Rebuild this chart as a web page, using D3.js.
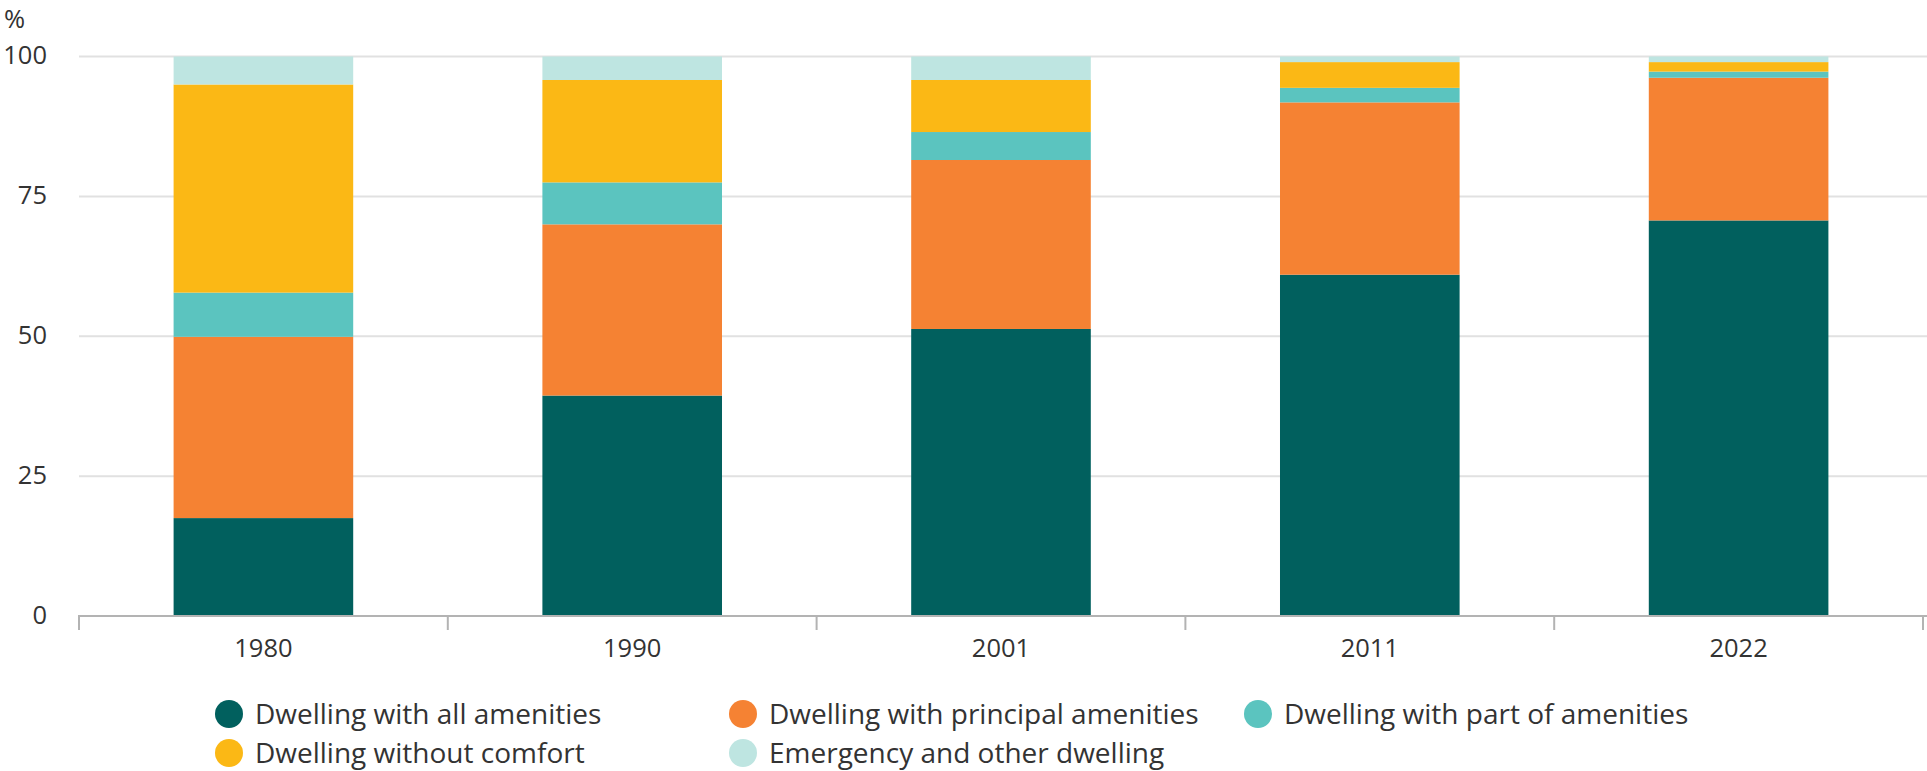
<!DOCTYPE html>
<html>
<head>
<meta charset="utf-8">
<script src="https://cdn.jsdelivr.net/npm/d3@7"></script>
<style>
  html, body { margin: 0; padding: 0; background: #ffffff; }
  svg { display: block; font-family: "Open Sans", "Noto Sans", sans-serif; }
</style>
</head>
<body>
<svg id="chart" width="1927" height="771"></svg>
<script>
// Census years on the x axis
const years = ["1980", "1990", "2001", "2011", "2022"];

// Share of dwellings (%) by amenity level, one array per series
const allAmenities       = [17.5, 39.4, 51.3, 61.0, 70.7];
const principalAmenities = [32.4, 30.6, 30.2, 30.8, 25.5];
const partOfAmenities    = [7.9, 7.5, 5.0, 2.6, 1.1];
const withoutComfort     = [37.2, 18.3, 9.3, 4.6, 1.7];
const emergencyOther     = [5.0, 4.2, 4.2, 1.0, 1.0];

const seriesNames = [
  "Dwelling with all amenities",
  "Dwelling with principal amenities",
  "Dwelling with part of amenities",
  "Dwelling without comfort",
  "Emergency and other dwelling"
];
const seriesValues = [allAmenities, principalAmenities, partOfAmenities, withoutComfort, emergencyOther];
const seriesColors = ["#01605e", "#f58233", "#5bc4bf", "#fbb815", "#bee5e1"];

const yTicks = [0, 25, 50, 75, 100];

// Build row table for d3.stack
const rows = years.map((y, i) => {
  const r = { year: y };
  seriesNames.forEach((n, k) => { r[n] = seriesValues[k][i]; });
  return r;
});

const svg = d3.select("#chart");
const textColor = "#333333";

const x = d3.scaleBand().domain(years).range([79, 1923]).paddingInner(0.513).paddingOuter(0.2565);
const y = d3.scaleLinear().domain([0, 100]).range([616, 56.5]);

// Horizontal gridlines
svg.append("g")
  .selectAll("line")
  .data(yTicks.filter(t => t > 0))
  .join("line")
  .attr("x1", 79).attr("x2", 1927)
  .attr("y1", d => y(d)).attr("y2", d => y(d))
  .attr("stroke", "#e1e1e1").attr("stroke-width", 2);

// Y tick labels
svg.append("g")
  .selectAll("text")
  .data(yTicks)
  .join("text")
  .attr("x", 47).attr("y", d => y(d)).attr("dy", "0.3em")
  .attr("text-anchor", "end")
  .attr("font-size", 25.5).attr("fill", textColor)
  .text(d => d);

// Unit label
svg.append("text")
  .attr("x", 4).attr("y", 28)
  .attr("font-size", 25.5).attr("fill", textColor)
  .text("%");

// Stacked bars
const stack = d3.stack().keys(seriesNames);
const layers = stack(rows);

svg.append("g")
  .selectAll("g")
  .data(layers)
  .join("g")
  .attr("fill", (d, i) => seriesColors[i])
  .selectAll("rect")
  .data(d => d)
  .join("rect")
  .attr("x", d => x(d.data.year))
  .attr("width", x.bandwidth())
  .attr("y", d => y(d[1]))
  .attr("height", d => y(d[0]) - y(d[1]));

// X axis with ticks at band boundaries
const axisG = svg.append("g");
axisG.append("line")
  .attr("x1", 78).attr("x2", 1927)
  .attr("y1", 616).attr("y2", 616)
  .attr("stroke", "#b3b3b3").attr("stroke-width", 2);

const step = x.step();
const boundaries = d3.range(years.length + 1).map(i => x(years[0]) - (step - x.bandwidth()) / 2 + i * step);
axisG.selectAll("line.tick")
  .data(boundaries)
  .join("line")
  .attr("class", "tick")
  .attr("x1", d => d).attr("x2", d => d)
  .attr("y1", 616).attr("y2", 630)
  .attr("stroke", "#b3b3b3").attr("stroke-width", 2);

axisG.selectAll("text")
  .data(years)
  .join("text")
  .attr("x", d => x(d) + x.bandwidth() / 2)
  .attr("y", 657)
  .attr("text-anchor", "middle")
  .attr("font-size", 25.5).attr("fill", textColor)
  .text(d => d);

// Legend: three columns, two rows
const legendCols = [229, 743, 1258];
const legendRows = [714, 753];
const legend = svg.append("g")
  .selectAll("g")
  .data(seriesNames)
  .join("g")
  .attr("transform", (d, i) => `translate(${legendCols[i % 3]},${legendRows[Math.floor(i / 3)]})`);

legend.append("circle")
  .attr("r", 14)
  .attr("fill", (d, i) => seriesColors[i]);

legend.append("text")
  .attr("x", 26).attr("dy", "0.36em")
  .attr("font-size", 28).attr("fill", textColor)
  .text(d => d);
</script>
</body>
</html>
